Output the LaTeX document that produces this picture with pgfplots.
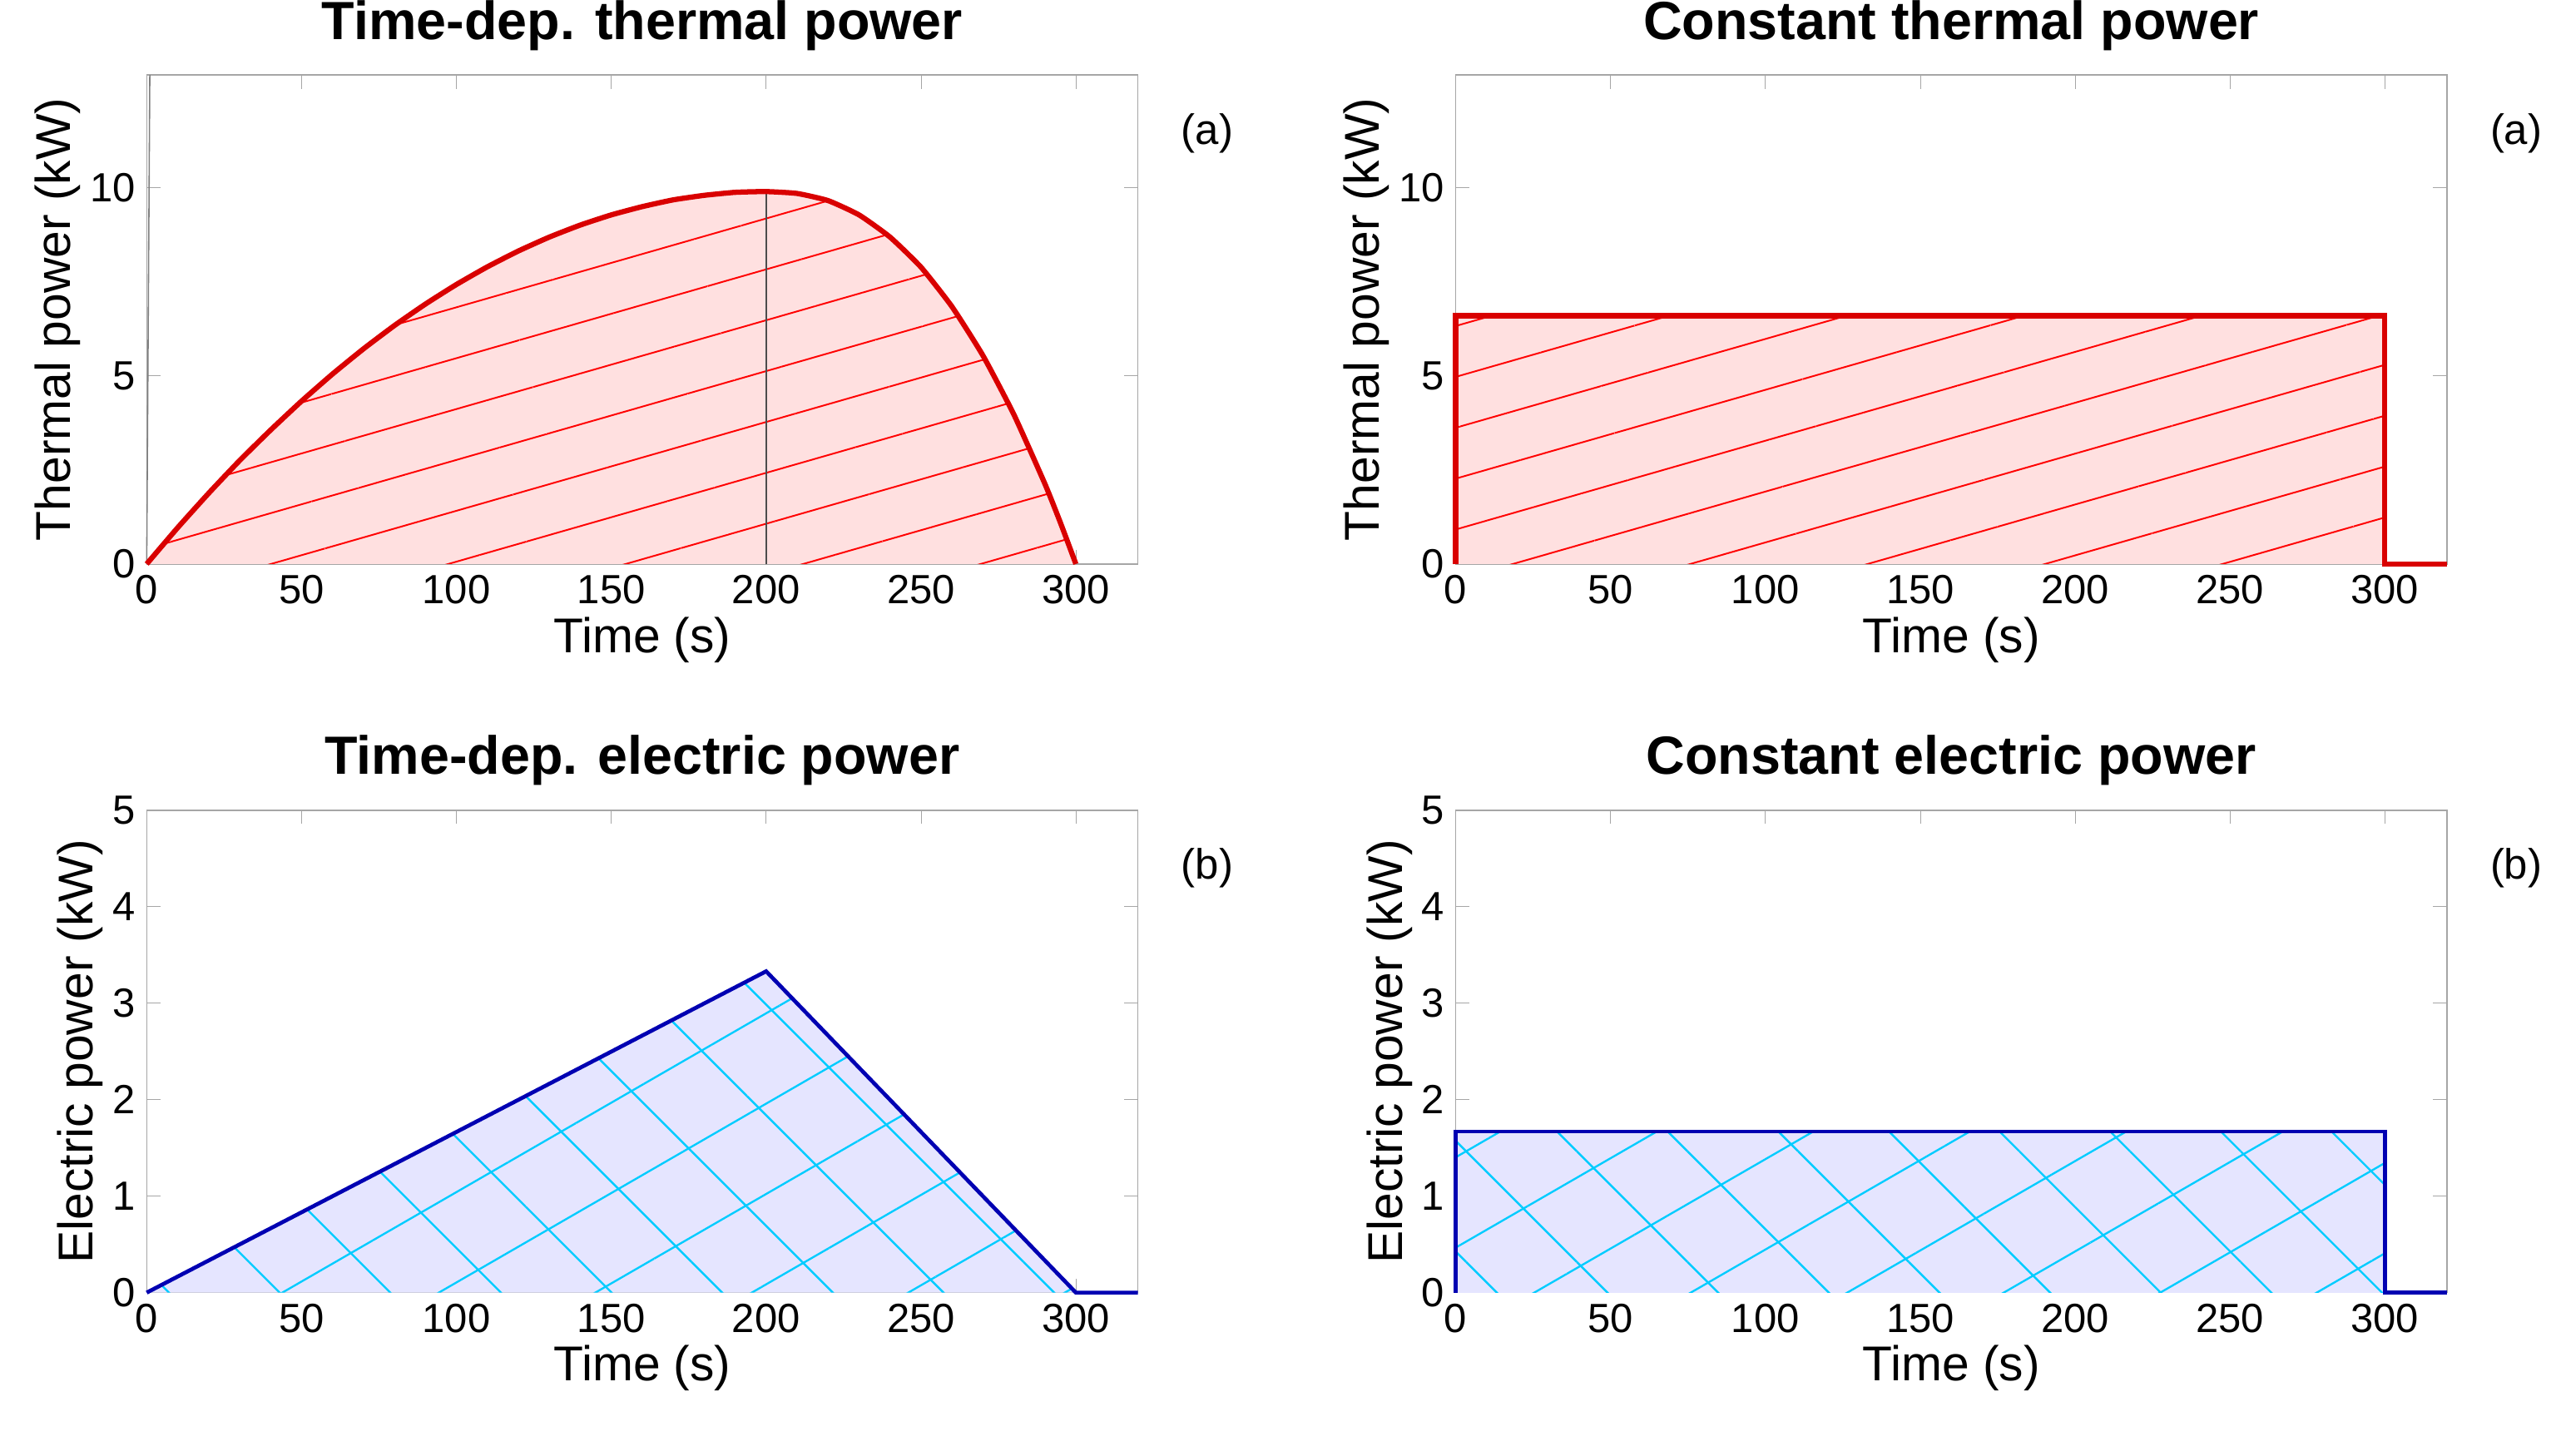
\documentclass[border=0pt]{standalone}
\usepackage{pgfplots}
\pgfplotsset{compat=1.18}
\usepackage{fontspec}
\setmainfont{Liberation Sans}
\usetikzlibrary{patterns.meta}
\begin{document}
\begin{tikzpicture}
\useasboundingbox (0,0) rectangle (784pt,446.5pt);
\pgfplotsset{
 every axis/.style={scale only axis, width=304pt, anchor=south west,
  xmin=0, xmax=320, xtick={0,50,...,300},
  tick label style={font=\fontsize{12.5}{14}\selectfont},
  label style={font=\fontsize{15}{16}\selectfont},
  title style={font=\bfseries\fontsize{16.5}{18}\selectfont, yshift=-2pt},
  /pgf/number format/assume math mode=true,
  xlabel={Time (s)}, tick align=inside, axis line style={gray!70}, tick style={gray!70},
  xlabel style={yshift=3pt}, ylabel style={yshift=-4pt},
  clip=false},
 th/.style={height=150pt, ymin=0, ymax=13, ytick={0,5,10}, ylabel={Thermal power (kW)}},
 el/.style={height=148pt, ymin=0, ymax=5, ytick={0,1,...,5}, ylabel={Electric power (kW)}},
}
\def\curve{(0,0)(10,0.965)(20,1.88)(30,2.75)(40,3.56)(50,4.33)(60,5.05)(70,5.72)(80,6.34)(90,6.91)(100,7.43)(110,7.90)(120,8.32)(130,8.69)(140,9.01)(150,9.28)(160,9.50)(170,9.68)(180,9.80)(190,9.88)(200,9.9)(210,9.85)(220,9.66)(230,9.28)(240,8.69)(250,7.89)(260,6.84)(270,5.54)(280,3.97)(290,2.13)(295,1.10)(300,0)}
% Top-left
\begin{axis}[th, at={(45pt,273.5pt)}, title={Time-dep. thermal power}]
\addplot[draw=none, fill=red!12] coordinates {\curve};
\addplot[draw=none, pattern={Lines[angle=16,distance=15pt,line width=0.5pt]}, pattern color=red] coordinates {\curve};
\addplot[black!70, thin] coordinates {(200,0)(200,9.9)};
\addplot[gray, thin] coordinates {(0,0)(1,13)};
\addplot[red!85!black, line width=1.6pt, smooth, tension=0.3] coordinates {\curve};
\node[font=\fontsize{13}{15}\selectfont] at (rel axis cs:1.07,0.88) {(a)};
\end{axis}
% Top-right
\begin{axis}[th, at={(446.5pt,273.5pt)}, title={Constant thermal power}]
\addplot[draw=none, fill=red!12] coordinates {(0,0)(0,6.6)(300,6.6)(300,0)};
\addplot[draw=none, pattern={Lines[angle=16,distance=15pt,line width=0.5pt]}, pattern color=red] coordinates {(0,0)(0,6.6)(300,6.6)(300,0)};
\addplot[red!85!black, line width=1.6pt] coordinates {(0,0)(0,6.6)(300,6.6)(300,0)(320,0)};
\node[font=\fontsize{13}{15}\selectfont] at (rel axis cs:1.07,0.88) {(a)};
\end{axis}
% Bottom-left
\begin{axis}[el, at={(45pt,50pt)}, title={Time-dep. electric power}]
\addplot[draw=none, fill=blue!10] coordinates {(0,0)(200,3.33)(300,0)};
\addplot[draw=none, pattern={Lines[angle=30,distance=24pt,line width=0.6pt]}, pattern color=cyan!80!blue] coordinates {(0,0)(200,3.33)(300,0)};
\addplot[draw=none, pattern={Lines[angle=-45,distance=24pt,line width=0.6pt]}, pattern color=cyan!80!blue] coordinates {(0,0)(200,3.33)(300,0)};
\addplot[blue!70!black, line width=1.2pt] coordinates {(0,0)(200,3.33)(300,0)(320,0)};
\node[font=\fontsize{13}{15}\selectfont] at (rel axis cs:1.07,0.88) {(b)};
\end{axis}
% Bottom-right
\begin{axis}[el, at={(446.5pt,50pt)}, title={Constant electric power}]
\addplot[draw=none, fill=blue!10] coordinates {(0,0)(0,1.67)(300,1.67)(300,0)};
\addplot[draw=none, pattern={Lines[angle=30,distance=24pt,line width=0.6pt]}, pattern color=cyan!80!blue] coordinates {(0,0)(0,1.67)(300,1.67)(300,0)};
\addplot[draw=none, pattern={Lines[angle=-45,distance=24pt,line width=0.6pt]}, pattern color=cyan!80!blue] coordinates {(0,0)(0,1.67)(300,1.67)(300,0)};
\addplot[blue!70!black, line width=1.2pt] coordinates {(0,0)(0,1.67)(300,1.67)(300,0)(320,0)};
\node[font=\fontsize{13}{15}\selectfont] at (rel axis cs:1.07,0.88) {(b)};
\end{axis}
\end{tikzpicture}
\end{document}
